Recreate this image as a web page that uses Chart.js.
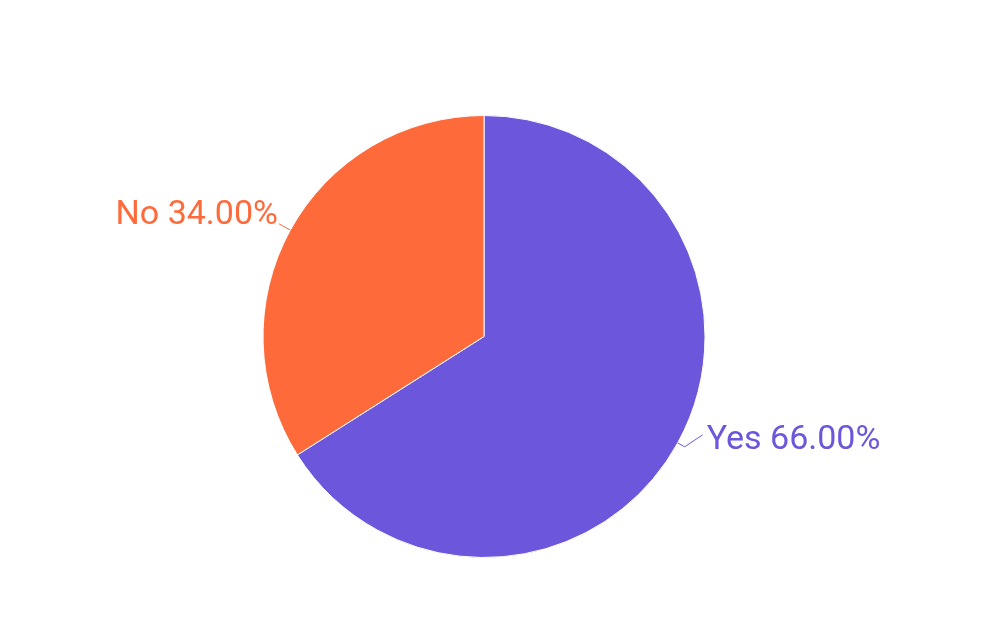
<!DOCTYPE html>
<html>
<head>
<meta charset="utf-8">
<script src="https://cdn.jsdelivr.net/npm/chart.js@4"></script>
<style>
  html, body { margin: 0; padding: 0; background: #fff; }
  .wrapper { width: 1000px; height: 624px; position: relative; }
</style>
</head>
<body>
<div class="wrapper"><canvas id="chart"></canvas></div>
<script>
const labels = ['Yes', 'No'];
const values = [66, 34];
const colors = ['#6B56DC', '#FF6A3B'];

// draws "label xx.xx%" outside each slice with a small leader line
const outsideLabels = {
  id: 'outsideLabels',
  afterDatasetsDraw (chart) {
    const { ctx } = chart;
    const meta = chart.getDatasetMeta(0);
    const total = values.reduce((a, b) => a + b, 0);
    ctx.save();
    ctx.font = '400 34px Roboto';
    ctx.lineWidth = 1;
    meta.data.forEach((arc, i) => {
      const { x, y, startAngle, endAngle, outerRadius } = arc.getProps(['x', 'y', 'startAngle', 'endAngle', 'outerRadius'], true);
      const mid = (startAngle + endAngle) / 2;
      const cos = Math.cos(mid);
      const sin = Math.sin(mid);
      const text = `${labels[i]} ${(values[i] / total * 100).toFixed(2)}%`;
      ctx.strokeStyle = colors[i];
      ctx.fillStyle = colors[i];
      ctx.textBaseline = 'alphabetic';
      ctx.beginPath();
      if (cos >= 0) {
        const p0 = [x + outerRadius * cos, y + outerRadius * sin];
        const p1 = [x + (outerRadius + 8) * cos, y + (outerRadius + 8) * sin];
        const p2 = [p1[0] + 18, p1[1] - 12];
        ctx.moveTo(p0[0], p0[1]);
        ctx.lineTo(p1[0], p1[1]);
        ctx.lineTo(p2[0], p2[1]);
        ctx.stroke();
        ctx.textAlign = 'left';
        ctx.fillText(text, p2[0] + 4, p2[1] + 14);
      }
      else {
        const p0 = [x + outerRadius * cos, y + outerRadius * sin];
        const p1 = [x + (outerRadius + 13) * cos, y + (outerRadius + 13) * sin];
        ctx.moveTo(p0[0], p0[1]);
        ctx.lineTo(p1[0], p1[1]);
        ctx.stroke();
        ctx.textAlign = 'right';
        ctx.fillText(text, p1[0] - 1, p1[1]);
      }
    });
    ctx.restore();
  },
};

new Chart(document.getElementById('chart'), {
  type: 'pie',
  data: {
    labels,
    datasets: [{
      data: values,
      backgroundColor: colors,
      borderColor: '#ffffff',
      borderWidth: 1,
    }],
  },
  options: {
    responsive: true,
    maintainAspectRatio: false,
    animation: false,
    layout: { padding: { top: 115, bottom: 66, left: 0, right: 32 } },
    plugins: {
      legend: { display: false },
      tooltip: { enabled: false },
    },
  },
  plugins: [outsideLabels],
});
</script>
</body>
</html>
